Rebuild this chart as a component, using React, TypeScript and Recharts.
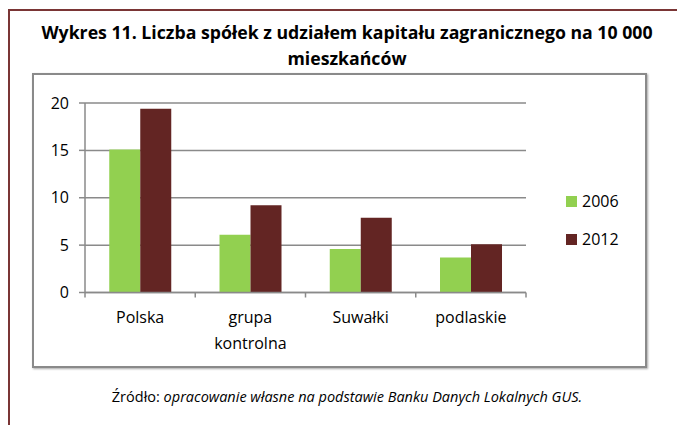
import React from 'react';
import { BarChart, Bar, XAxis, YAxis, CartesianGrid, Legend } from 'recharts';

const categories = ['Polska', 'grupa kontrolna', 'Suwałki', 'podlaskie'];
const values2006 = [15.1, 6.1, 4.6, 3.7];
const values2012 = [19.4, 9.2, 7.9, 5.1];
const yTicks = [0, 5, 10, 15, 20];

const data = categories.map((name, i) => ({ name, v2006: values2006[i], v2012: values2012[i] }));

const FONT = '"Open Sans", sans-serif';
const GRAY = '#8a8a8a';
const PLOT_W = 441;
const BAND = PLOT_W / categories.length;

const CategoryTick = (props: any) => {
  const { x, y, payload, index } = props;
  const lines = String(payload.value).split(' ');
  const left = x - BAND / 2;
  return (
    <g>
      <line x1={left} y1={y} x2={left} y2={y + 5} stroke={GRAY} strokeWidth={1.5} />
      {index === categories.length - 1 && (
        <line x1={x + BAND / 2} y1={y} x2={x + BAND / 2} y2={y + 5} stroke={GRAY} strokeWidth={1.5} />
      )}
      <text x={x} y={y + 30} textAnchor="middle" fontSize={16} fontFamily={FONT} fill="#000">
        {lines.map((l, i) => (
          <tspan key={i} x={x} dy={i === 0 ? 0 : 26}>{l}</tspan>
        ))}
      </text>
    </g>
  );
};

const LegendContent = (props: any) => (
  <div style={{ fontFamily: FONT, fontSize: 16, color: '#000' }}>
    {(props.payload || []).map((p: any) => (
      <div key={p.value} style={{ display: 'flex', alignItems: 'center', height: 38 }}>
        <span style={{ width: 11, height: 11, background: p.color, marginRight: 5, display: 'inline-block' }} />
        <span>{p.value}</span>
      </div>
    ))}
  </div>
);

export default function App() {
  return (
    <div style={{ position: 'absolute', left: 0, top: 0, width: 677, height: 425, background: '#fff', overflow: 'hidden' }}>
      <div style={{ position: 'absolute', left: 8, top: 9, width: 700, height: 440, borderTop: '2px solid #7a3535', borderLeft: '2px solid #7a3535' }} />
      <div style={{ position: 'absolute', left: 0, top: 19, width: 694, textAlign: 'center', fontFamily: FONT, fontWeight: 700, fontSize: 17.7, lineHeight: '26px', color: '#000' }}>
        Wykres 11. Liczba spółek z udziałem kapitału zagranicznego na 10 000
        <br />
        mieszkańców
      </div>
      <div style={{ position: 'absolute', left: 32, top: 73, width: 611, height: 291, border: `2px solid ${GRAY}`, boxShadow: '1px 1px 2px rgba(0,0,0,0.35)', background: '#fff' }} />
      <div style={{ position: 'absolute', left: 0, top: 0 }}>
        <BarChart
          width={677}
          height={425}
          data={data}
          margin={{ top: 103, right: 151, left: 0, bottom: 72.5 }}
          barCategoryGap="22%"
          barGap={0}
        >
          <CartesianGrid vertical={false} stroke={GRAY} strokeWidth={1.5} />
          <XAxis
            dataKey="name"
            height={60}
            axisLine={{ stroke: GRAY, strokeWidth: 1.5 }}
            tickLine={false}
            tickSize={0}
            tickMargin={0}
            interval={0}
            tick={<CategoryTick />}
          />
          <YAxis
            width={85}
            domain={[0, 20]}
            ticks={yTicks}
            axisLine={{ stroke: GRAY, strokeWidth: 1.5 }}
            tickLine={{ stroke: GRAY, strokeWidth: 1.5 }}
            tickSize={6}
            tickMargin={10}
            tick={{ fontSize: 16, fontFamily: FONT, fill: '#000' }}
          />
          <Legend
            layout="vertical"
            align="center"
            verticalAlign="middle"
            content={<LegendContent />}
            wrapperStyle={{ position: 'absolute', left: 566, top: 182, width: 80 }}
          />
          <Bar dataKey="v2006" name="2006" fill="#92d050" isAnimationActive={false} />
          <Bar dataKey="v2012" name="2012" fill="#632523" isAnimationActive={false} />
        </BarChart>
      </div>
      <div style={{ position: 'absolute', left: 0, top: 387, width: 694, textAlign: 'center', fontFamily: FONT, fontSize: 14.5, lineHeight: '20px', color: '#000' }}>
        Źródło: <i>opracowanie własne na podstawie Banku Danych Lokalnych GUS.</i>
      </div>
    </div>
  );
}
